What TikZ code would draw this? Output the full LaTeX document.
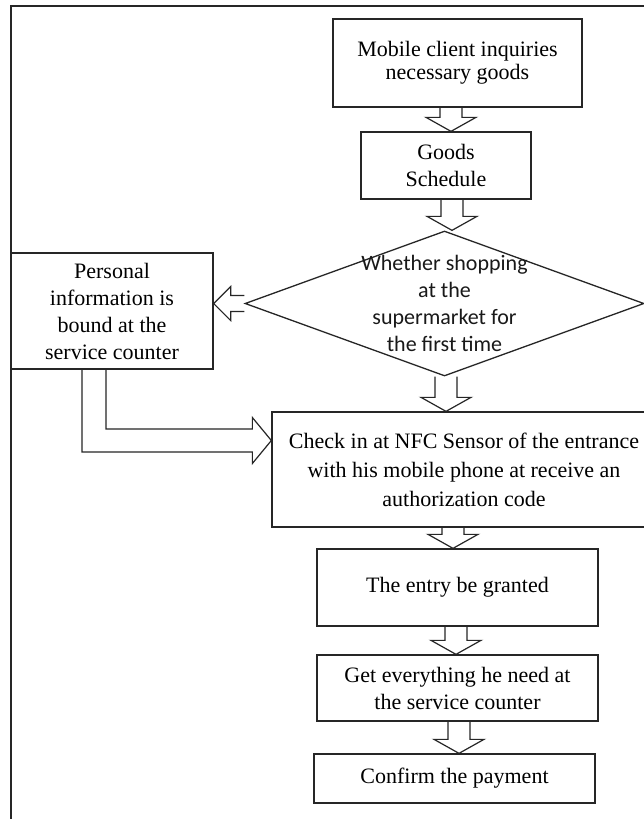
\documentclass[tikz,border=0pt]{standalone}
\usepackage{fontspec}
\setmainfont{Liberation Serif}
\newfontfamily\calibfont{Carlito}
\usetikzlibrary{shapes.geometric,calc}

\newcommand{\flowdown}[3]{%
  \draw[blk] let \p1=(#1.south), \p2=(#2.north), \p3=(#3,0) in
    (\x3-11pt,\y1) -- (\x3-11pt,\y2+14pt) -- (\x3-25pt,\y2+14pt) -- (\x3,\y2)
    -- (\x3+25pt,\y2+14pt) -- (\x3+11pt,\y2+14pt) -- (\x3+11pt,\y1);}

\begin{document}
\begin{tikzpicture}[x=1pt, y=-1pt,
  box/.style={draw=black!85, line width=1.3pt, inner sep=0pt, align=center,
    font=\fontsize{22}{27}\selectfont},
  decision/.style={diamond, draw=black!85, line width=1.3pt, inner sep=0pt},
  blk/.style={draw=black!85, line width=1.2pt, line join=miter},
  frame/.style={draw=black!85, line width=1.2pt}
]
\clip (0,0) rectangle (644,819);
\fill[white] (0,0) rectangle (644,819);
\draw[frame] (11,819) -- (11,6) -- (644,6);
\node[box, minimum width=249pt, minimum height=88pt,
  font=\fontsize{22}{23}\selectfont] (ask) at (457.5,63)
  {Mobile client inquiries\\necessary goods};
\node[box, minimum width=170pt, minimum height=67pt] (sched) at (446,165.5)
  {Goods\\Schedule};
\node[decision, minimum width=399pt, minimum height=145pt] (first) at (444.5,303.5) {};
\node[font=\calibfont\fontsize{22}{27}\selectfont, align=center, inner sep=0pt,
  text=black!90] (firsttxt) at (first.center)
  {Whether shopping\\at the\\supermarket for\\the first time};
\node[box, minimum width=202pt, minimum height=116pt] (bind) at (112,311)
  {Personal\\information is\\bound at the\\service counter};
\node[box, minimum width=384pt, minimum height=115pt,
  font=\fontsize{22}{29}\selectfont] (check) at (464,469.5)
  {Check in at NFC Sensor of the entrance\\with his mobile phone at receive an\\authorization code};
\node[box, minimum width=281pt, minimum height=77pt] (entry) at (457.5,587.5)
  {The entry be granted};
\node[box, minimum width=281pt, minimum height=66pt] (get) at (457.5,688)
  {Get everything he need at\\the service counter};
\node[box, minimum width=281pt, minimum height=49pt] (pay) at (454.5,778.5)
  {Confirm the payment};
\flowdown{ask}{sched}{451}
\flowdown{sched}{first}{452}
\flowdown{first}{check}{446}
\flowdown{check}{entry}{453}
\flowdown{entry}{get}{456}
\flowdown{get}{pay}{459}
\draw[blk] let \p1=(first.west), \p2=(bind.east) in
  (\x1,\y1+8pt) -- (\x2+17pt,\y1+8pt) -- (\x2+17pt,\y1+17pt) -- (\x2,\y1)
  -- (\x2+17pt,\y1-17pt) -- (\x2+17pt,\y1-8pt) -- (\x1,\y1-8pt);
\coordinate (bend) at (94,440.5);
\draw[blk] let \p1=(bind.south), \p2=(check.west), \p3=(bend) in
  (\x3-12pt,\y1) -- (\x3-12pt,\y3-11.5pt) -- (\x2-19pt,\y3-11.5pt)
  -- (\x2-19pt,\y3-23pt) -- (\x2,\y3) -- (\x2-19pt,\y3+23pt)
  -- (\x2-19pt,\y3+11.5pt) -- (\x3+12pt,\y3+11.5pt) -- (\x3+12pt,\y1);
\end{tikzpicture}
\end{document}
